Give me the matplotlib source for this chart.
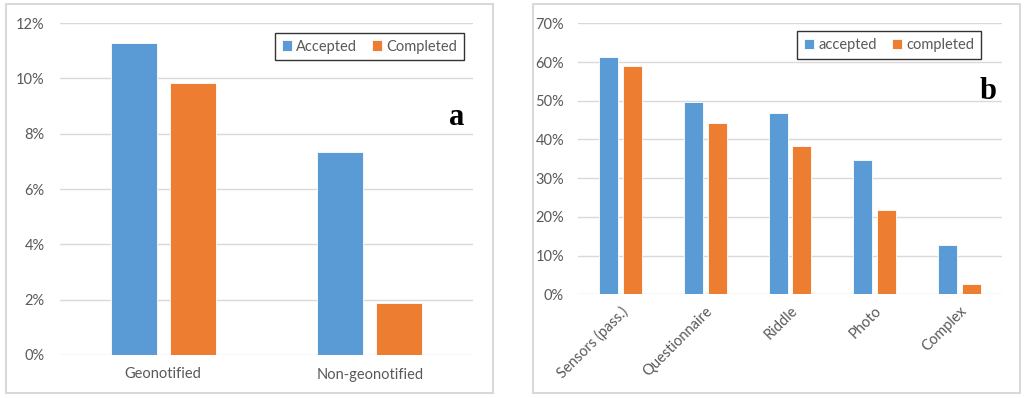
import numpy as np
import matplotlib
matplotlib.use("Agg")
import matplotlib.pyplot as plt
from matplotlib.patches import Rectangle
from matplotlib.ticker import PercentFormatter

# panel a: geonotified vs non-geonotified
cats_a = ["Geonotified", "Non-geonotified"]
accepted_a = [11.28, 7.35]
completed_a = [9.82, 1.89]

# panel b: task types
cats_b = ["Sensors (pass.)", "Questionnaire", "Riddle", "Photo", "Complex"]
accepted_b = [61.4, 49.7, 46.9, 34.8, 12.7]
completed_b = [58.9, 44.2, 38.3, 21.7, 2.7]

BLUE = "#5B9BD5"
ORANGE = "#ED7D31"
GRID = "#D9D9D9"
TXT = "#595959"

plt.rcParams["font.family"] = ["Lato", "DejaVu Sans"]
plt.rcParams["font.size"] = 10.5

fig = plt.figure(figsize=(10.24, 3.98), dpi=100)

# light grey frames around both panels
for x0, x1 in [(6, 493), (533, 1020)]:
    fig.patches.append(Rectangle((x0 / 1024, 1 - 393 / 398), (x1 - x0) / 1024, 389 / 398,
                                 transform=fig.transFigure, fill=False,
                                 edgecolor=GRID, linewidth=1.5))


def style_axes(ax, ymax, step, pad_y):
    ax.set_ylim(0, ymax)
    ax.set_yticks(np.arange(0, ymax + step / 2, step))
    ax.yaxis.set_major_formatter(PercentFormatter(decimals=0))
    ax.grid(axis="y", color=GRID, linewidth=1)
    ax.set_axisbelow(True)
    for s in ax.spines.values():
        s.set_visible(False)
    ax.tick_params(length=0, colors=TXT)
    ax.tick_params(axis="y", pad=pad_y)


def draw_bars(ax, n, acc, comp, width, gap, labels):
    x = np.arange(n)
    off = (width + gap) / 2
    ax.bar(x - off, acc, width, color=BLUE, edgecolor="white", linewidth=0.6, label=labels[0])
    ax.bar(x + off, comp, width, color=ORANGE, edgecolor="white", linewidth=0.6, label=labels[1])
    ax.set_xlim(-0.5, n - 0.5)
    ax.set_xticks(x)


# panel a
ax1 = fig.add_axes([60 / 1024, 1 - 355 / 398, 413 / 1024, 332 / 398])
draw_bars(ax1, len(cats_a), accepted_a, completed_a, 0.223, 0.063, ["Accepted", "Completed"])
style_axes(ax1, 12, 2, 11)
ax1.set_xticklabels(cats_a)
ax1.tick_params(axis="x", pad=9)
leg1 = ax1.legend(loc="center", bbox_to_anchor=(369.5 / 1024, 1 - 46.5 / 398),
                  bbox_transform=fig.transFigure, ncol=2, fancybox=False,
                  edgecolor="black", handlelength=0.7, handleheight=0.7,
                  handletextpad=0.3, columnspacing=1.0, borderpad=0.45)
leg1.get_frame().set_linewidth(1.0)
for t in leg1.get_texts():
    t.set_color(TXT)
fig.text(457 / 1024, 1 - 125 / 398, "a", family="Liberation Serif", weight="bold",
         fontsize=22, ha="center", va="baseline")

# panel b
ax2 = fig.add_axes([578 / 1024, 1 - 294.3 / 398, 424 / 1024, 271 / 398])
draw_bars(ax2, len(cats_b), accepted_b, completed_b, 0.224, 0.055, ["accepted", "completed"])
style_axes(ax2, 70, 10, 10)
ax2.set_xticklabels(cats_b, rotation=45, ha="right", rotation_mode="anchor")
ax2.tick_params(axis="x", pad=7)
leg2 = ax2.legend(loc="center", bbox_to_anchor=(889 / 1024, 1 - 45 / 398),
                  bbox_transform=fig.transFigure, ncol=2, fancybox=False,
                  edgecolor="black", handlelength=0.7, handleheight=0.7,
                  handletextpad=0.3, columnspacing=1.0, borderpad=0.45)
leg2.get_frame().set_linewidth(1.0)
for t in leg2.get_texts():
    t.set_color(TXT)
fig.text(988 / 1024, 1 - 99 / 398, "b", family="Liberation Serif", weight="bold",
         fontsize=22, ha="center", va="baseline")

fig.savefig("out.png", dpi=100)
